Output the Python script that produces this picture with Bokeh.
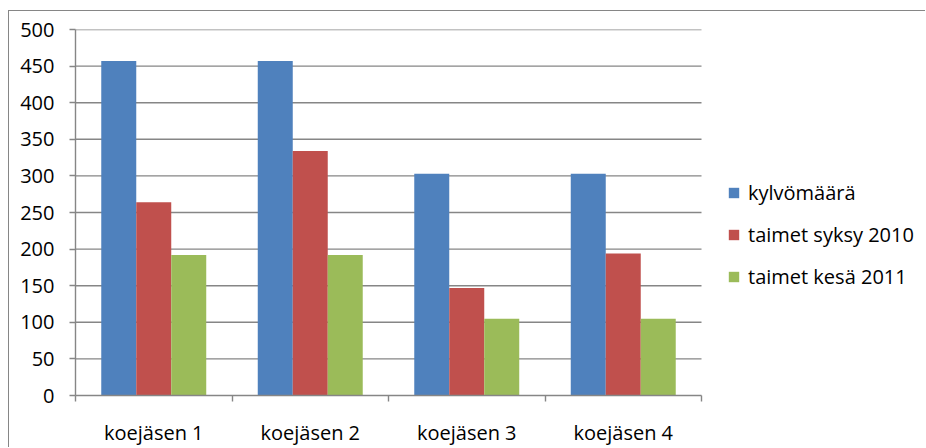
from bokeh.plotting import figure
from bokeh.models import Range1d, FixedTicker, Legend, LegendItem, ColumnDataSource
from bokeh.embed import file_html
from bokeh.resources import INLINE

# Data
categories = ["koejäsen 1", "koejäsen 2", "koejäsen 3", "koejäsen 4"]
series_names = ["kylvömäärä", "taimet syksy 2010", "taimet kesä 2011"]
kylvomaara = [457, 457, 303, 303]
taimet_syksy_2010 = [264, 334, 147, 194]
taimet_kesa_2011 = [192, 192, 105, 105]
y_ticks = [0, 50, 100, 150, 200, 250, 300, 350, 400, 450, 500]

colors = ["#4F81BD", "#C0504D", "#9BBB59"]
FONT = "Open Sans"
FONT_SIZE = "20px"
GRID = "#868686"

# Layout (pixels): the frame also covers the legend area on the right,
# while the bars and gridlines occupy only the first PLOT_W pixels of it.
FIG_W, FIG_H = 917, 437
LEFT, TOP, BOTTOM = 66, 18, 37
PLOT_W = 626
frame_w = FIG_W - LEFT
n = len(categories)

p = figure(width=FIG_W, height=FIG_H, output_backend="svg", toolbar_location=None,
           x_range=Range1d(0, n * frame_w / PLOT_W), y_range=Range1d(0, 500),
           min_border_left=LEFT, min_border_right=0, min_border_top=TOP,
           min_border_bottom=BOTTOM,
           styles={"margin-left": "8px", "margin-top": "10px",
                   "border-left": f"1px solid {GRID}",
                   "border-top": f"1px solid {GRID}"})
p.outline_line_color = None
p.background_fill_color = "white"
p.border_fill_color = "white"

# Horizontal gridlines across the category area only
p.segment(x0=[0] * len(y_ticks[1:]), x1=[n] * len(y_ticks[1:]),
          y0=y_ticks[1:], y1=y_ticks[1:], line_color=GRID, line_width=1.4)

# Clustered bars: three series side by side within each category slot
bar_w = 0.2236
offsets = [-bar_w, 0.0, bar_w]
renderers = []
for vals, off, col in zip([kylvomaara, taimet_syksy_2010, taimet_kesa_2011], offsets, colors):
    src = ColumnDataSource(dict(x=[i + 0.5 + off for i in range(n)], top=vals))
    r = p.vbar(x="x", top="top", width=bar_w, source=src, fill_color=col,
               line_color=None)
    renderers.append(r)

# Y axis
p.yaxis.ticker = FixedTicker(ticks=y_ticks)
p.yaxis.axis_line_color = GRID
p.yaxis.axis_line_width = 1.4
p.yaxis.major_tick_line_color = GRID
p.yaxis.major_tick_line_width = 1.4
p.yaxis.major_tick_out = 6
p.yaxis.major_tick_in = 0
p.yaxis.minor_tick_line_color = None
p.yaxis.major_label_text_font = FONT
p.yaxis.major_label_text_font_size = FONT_SIZE
p.yaxis.major_label_text_color = "black"
p.yaxis.major_label_standoff = 15

# X axis: labels at category centres, tick marks on category boundaries
p.xaxis.bounds = (0, n)
p.xaxis.ticker = FixedTicker(ticks=[i + 0.5 for i in range(n)],
                             minor_ticks=list(range(n + 1)))
p.xaxis.major_label_overrides = {i + 0.5: c for i, c in enumerate(categories)}
p.xaxis.axis_line_color = GRID
p.xaxis.axis_line_width = 1.4
p.xaxis.major_tick_line_color = None
p.xaxis.minor_tick_line_color = GRID
p.xaxis.minor_tick_line_width = 1.4
p.xaxis.minor_tick_out = 6
p.xaxis.minor_tick_in = 0
p.xaxis.major_label_text_font = FONT
p.xaxis.major_label_text_font_size = FONT_SIZE
p.xaxis.major_label_text_color = "black"
p.xaxis.major_label_standoff = 17

p.xgrid.grid_line_color = None
p.ygrid.grid_line_color = None

# Legend to the right of the bars
legend = Legend(items=[LegendItem(label=s, renderers=[r]) for s, r in zip(series_names, renderers)],
                location=(652, 105), orientation="vertical",
                label_text_font=FONT, label_text_font_size=FONT_SIZE, label_text_color="black",
                glyph_width=13, glyph_height=13, label_standoff=8,
                label_height=26, spacing=15, padding=0, margin=0,
                border_line_color=None, background_fill_alpha=0)
p.add_layout(legend, "center")

open("out.html", "w").write(file_html(p, INLINE))
